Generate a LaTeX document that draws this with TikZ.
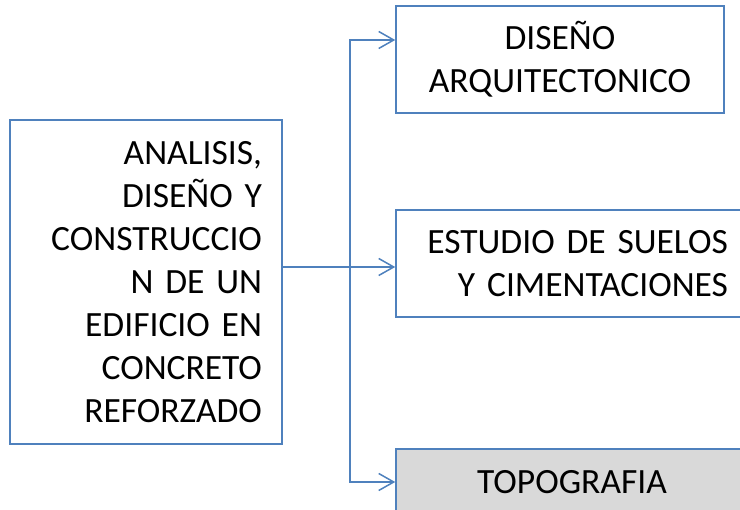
\documentclass[tikz,border=0pt]{standalone}
\usepackage{fontspec}
\setmainfont{Carlito}
\usepackage{tikz}
\usetikzlibrary{calc,positioning,shapes}
\usetikzlibrary{arrows.meta}
\definecolor{boxblue}{HTML}{4F81BD}
\definecolor{topogray}{HTML}{D9D9D9}
\newcommand{\boxfont}{\fontsize{35.5}{43}\selectfont\spaceskip=0.17em\relax}
\tikzset{>={Straight Barb[width=17pt,length=15pt]}}

\begin{document}
\begin{tikzpicture}[x=1pt,y=-1pt]
      %%%%%%%%%%%%%%%%%%%%%%%%%%%%%%%%%%%%%%%%%%%%%%%%%%
      %% edificio en concreto reforzado
      %%%%%%%%%%%%%%%%%%%%%%%%%%%%%%%%%%%%%%%%%%%%%%%%%%
      \tikzstyle{bnode} = [draw=boxblue, line width=1.5pt, rectangle, inner sep = 0pt, font=\boxfont]
      \tikzstyle{conn} = [draw=boxblue, line width=1.5pt]
      \useasboundingbox (0,0) rectangle (740,510);
      \node[bnode, minimum width=272pt, minimum height=324pt, text width=232pt, align=right] (main) at (146,282) {ANALISIS,\\ DISEÑO Y\\ CONSTRUCCIO\\ N DE UN\\ EDIFICIO EN\\ CONCRETO\\ REFORZADO};
      \node[bnode, minimum width=328pt, minimum height=107pt, align=center] (dis) at (560,59.5) {DISEÑO\\ ARQUITECTONICO};
      \node[bnode, minimum width=352pt, minimum height=107pt, text width=312pt, align=right] (est) at (572,263.5) {ESTUDIO DE SUELOS\\ Y CIMENTACIONES};
      \node[bnode, fill=topogray, minimum width=352pt, minimum height=66pt, align=center] (topo) at (572,482) {TOPOGRAFIA};
      \coordinate (bus) at (350,267);
      \draw[conn, ->] ([yshift=15pt]main.east) -- ([yshift=-3.5pt]est.west);
      \draw[conn, ->] (bus) |- ([yshift=19.5pt]dis.west);
      \draw[conn, ->] (bus) |- (topo.west);
    \end{tikzpicture}
\end{document}
